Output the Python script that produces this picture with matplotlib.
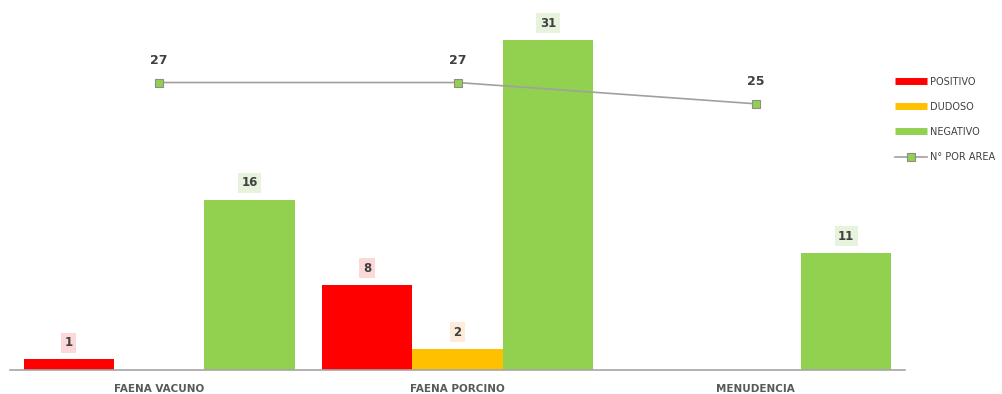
import matplotlib
matplotlib.use("Agg")
import matplotlib.pyplot as plt
from matplotlib.lines import Line2D
import numpy as np

categories = ["FAENA VACUNO", "FAENA PORCINO", "MENUDENCIA"]
positivo = [1, 8, 0]
dudoso = [0, 2, 0]
negativo = [16, 31, 11]
n_por_area = [27, 27, 25]

series = [
    ("POSITIVO", positivo, "#ff0000", "#fbd9d9"),
    ("DUDOSO", dudoso, "#ffc000", "#fdecd9"),
    ("NEGATIVO", negativo, "#92d050", "#e7f3dd"),
]

plt.rcParams['font.family'] = ['DejaVu Sans']
fig = plt.figure(figsize=(10.02, 3.94), dpi=100)
ax = fig.add_axes([10/1002, 24/394, 895/1002, 370/394])

x = np.arange(len(categories))
w = 0.303
handles = []
for i, (name, vals, col, lcol) in enumerate(series):
    pos = x + (i - 1) * w
    ax.bar(pos, vals, width=w, color=col, zorder=2)
    handles.append(Line2D([], [], color=col, lw=5, solid_capstyle="butt", label=name))
    for px, v in zip(pos, vals):
        if v > 0:
            ax.annotate(str(v), (px, v), xytext=(0, 12), textcoords="offset points",
                        ha="center", va="center", fontsize=8.5, color="#404040",
                        fontweight="bold",
                        bbox=dict(boxstyle="square,pad=0.3", fc=lcol, ec="none"))

ln, = ax.plot(x, n_por_area, color="#a0a0a0", lw=1.2, marker="s", markersize=6,
              markerfacecolor="#92d050", markeredgecolor="#8c8c8c", markeredgewidth=0.8,
              label="N° POR AREA", zorder=3)
handles.append(ln)
for px, v in zip(x, n_por_area):
    ax.annotate(str(v), (px, v), xytext=(0, 16), textcoords="offset points",
                ha="center", va="center", fontsize=9, fontweight="bold", color="#404040")

ax.set_xlim(-0.5, 2.5)
ax.set_ylim(0, 34.75)
for s in ["top", "right", "left"]:
    ax.spines[s].set_visible(False)
ax.spines["bottom"].set_color("#a6a6a6")
ax.spines["bottom"].set_linewidth(1.2)
ax.set_yticks([])
ax.set_xticks(x)
ax.set_xticklabels(categories, fontsize=7.5, color="#595959", fontweight="semibold")
ax.tick_params(axis="x", length=0, pad=10)

leg = fig.legend(handles=handles, loc="upper left", bbox_to_anchor=(886/1002, 1 - 68/394),
                 frameon=False, fontsize=7, labelcolor="#404040", handlelength=3.3,
                 handletextpad=0.3, labelspacing=1.55)

fig.savefig("out.png", dpi=100)
